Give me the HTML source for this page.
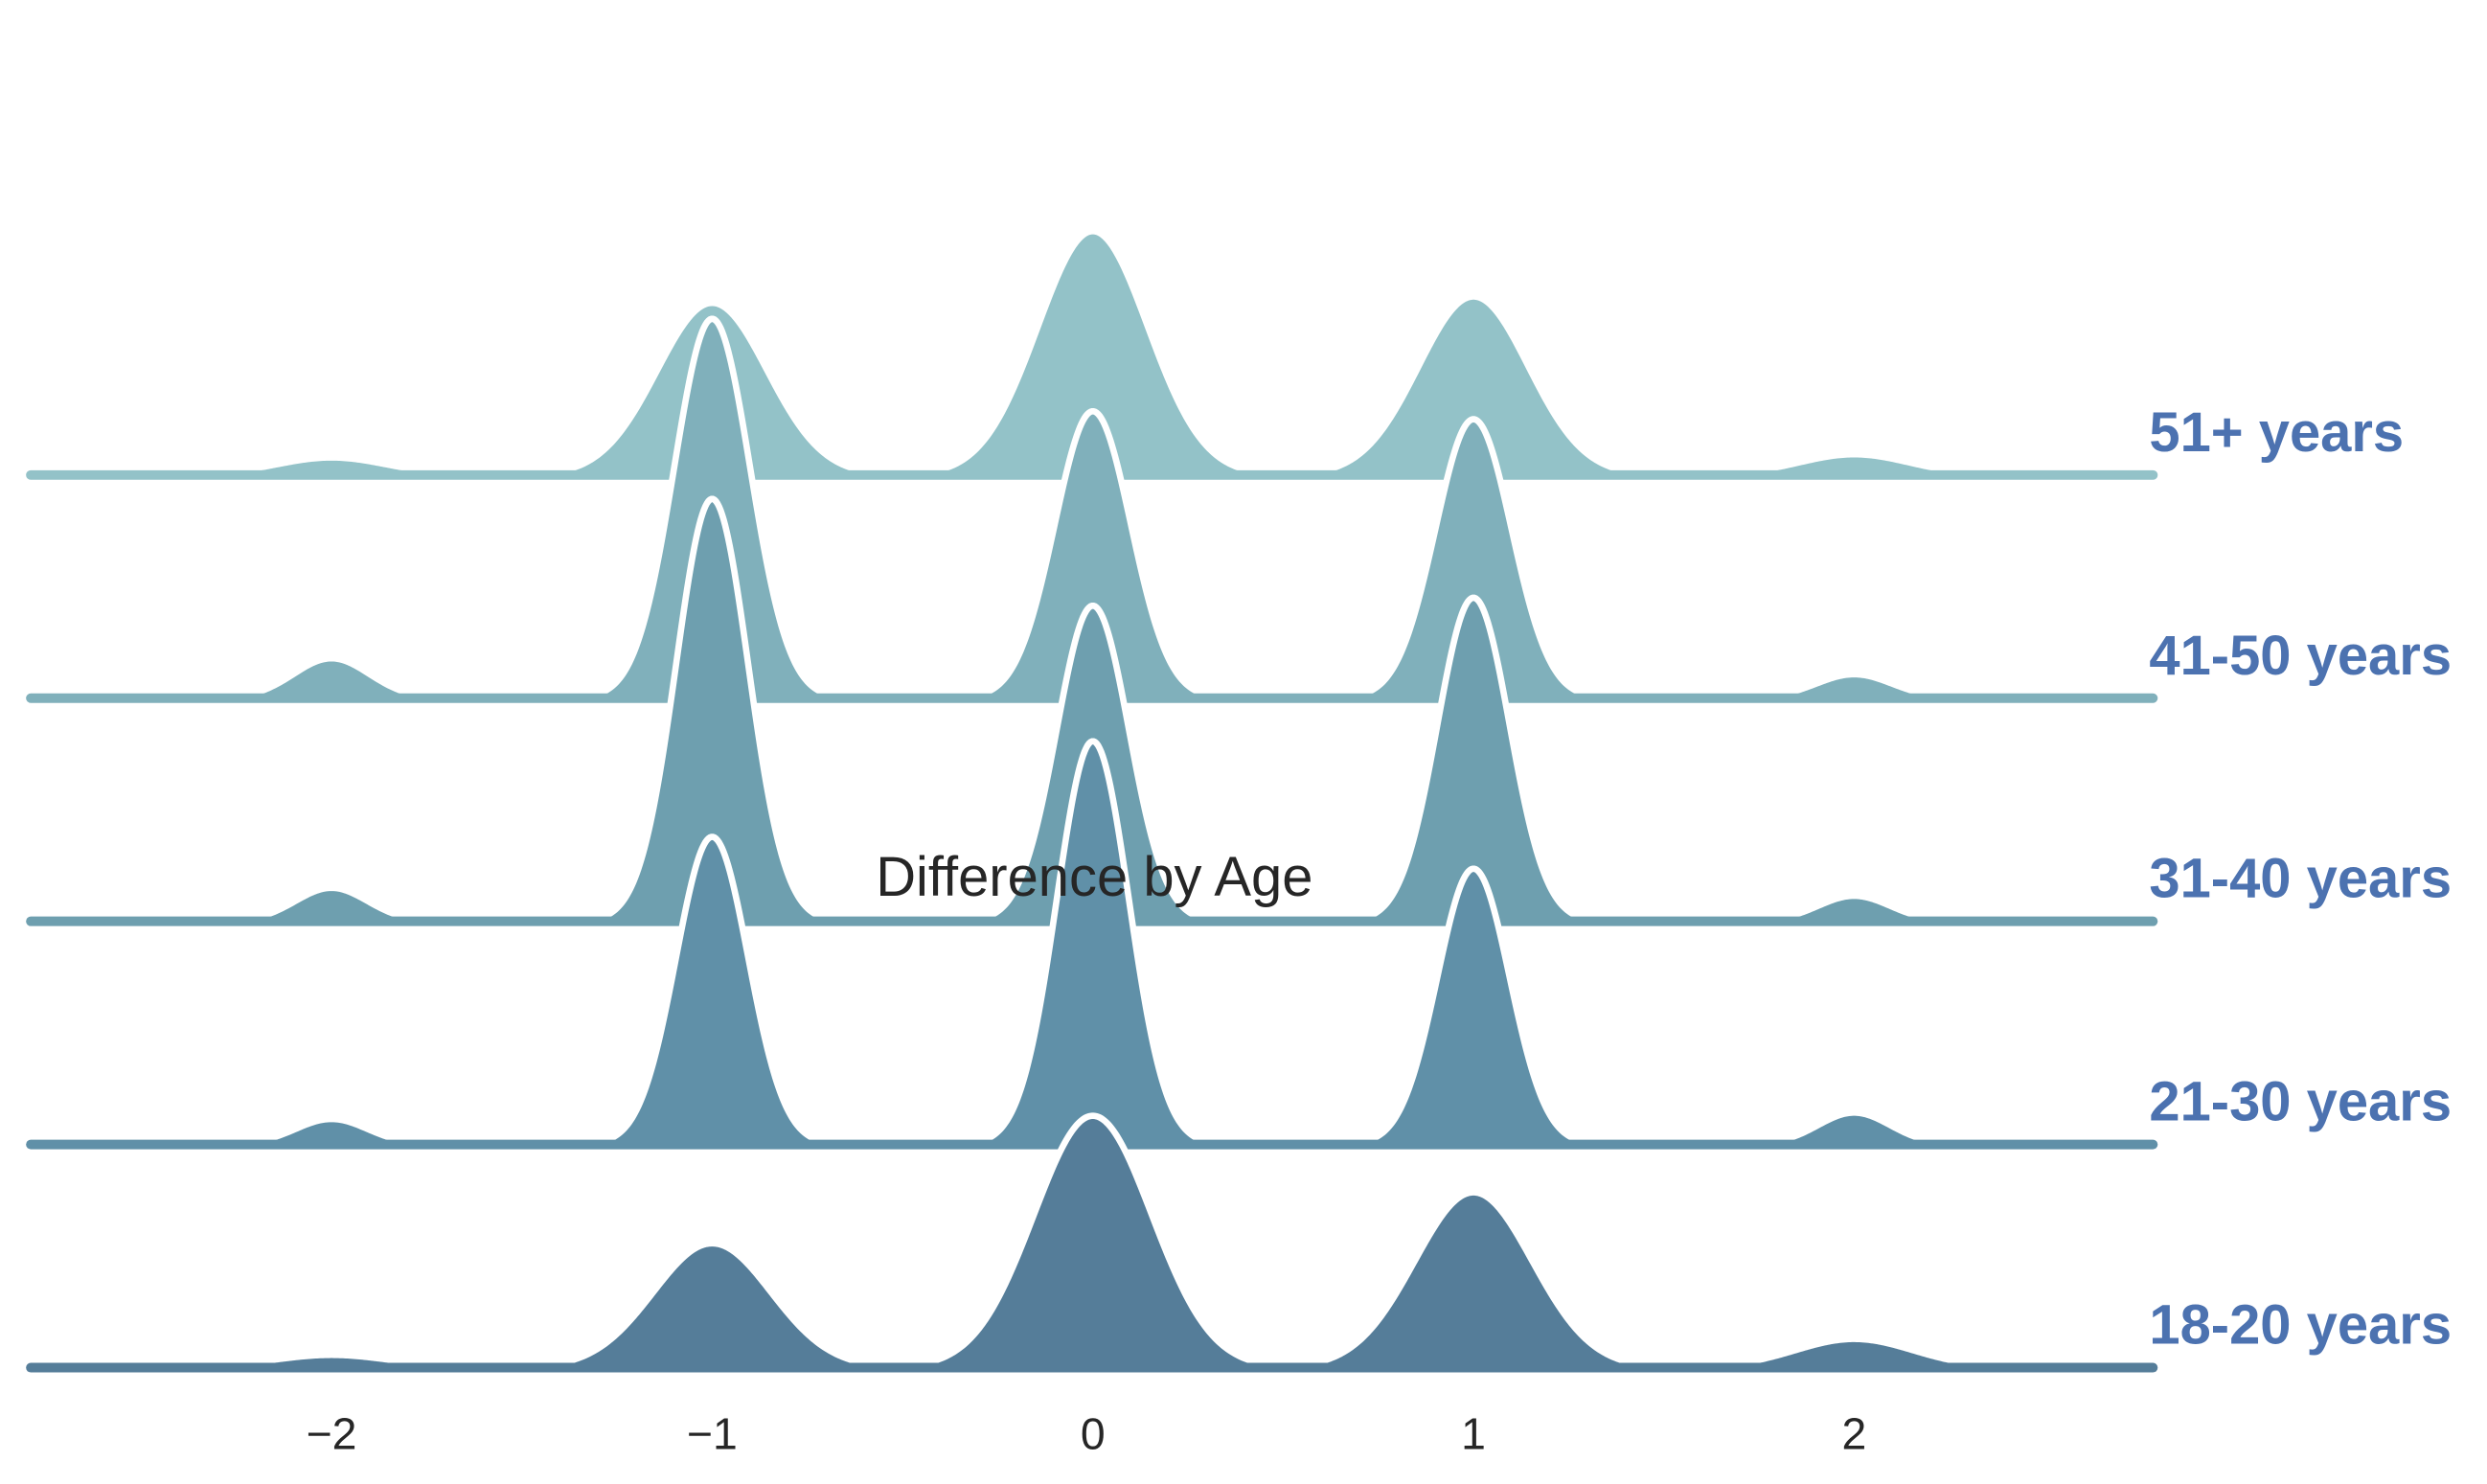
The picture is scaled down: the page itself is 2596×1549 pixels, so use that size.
<!DOCTYPE html>
<html><head><meta charset="utf-8"><style>
html,body{margin:0;padding:0;background:#fff;}
svg{display:block;}
</style></head><body>
<svg id="chart" width="2596" height="1549" viewBox="0 0 1568 931" preserveAspectRatio="none" xmlns="http://www.w3.org/2000/svg">
<g id="ridges"></g>
<text x="690" y="562" text-anchor="middle" font-family="Liberation Sans, sans-serif" font-size="35" fill="#262626">Difference by Age</text>
<g id="xticks"></g>
</svg>
<script>
const groups = ["51+ years","41-50 years","31-40 years","21-30 years","18-20 years"];
const centers = [-2,-1,0,1,2];
const g51 = [0.11,1.08,1.53,1.12,0.13];
const g41 = [0.25,2.38,1.80,1.75,0.15];
const g31 = [0.21,2.65,1.98,2.03,0.16];
const g21 = [0.16,1.93,2.53,1.73,0.20];
const g18 = [0.08,0.78,1.58,1.10,0.18];
const bandwidths = [0.145,0.10,0.095,0.095,0.155];
const xTicks = [-2,-1,0,1,2];
const xTickLabels = ["\u22122","\u22121","0","1","2"];

const series=[g51,g41,g31,g21,g18];
const colors=["#93c2c8","#80b0bb","#6e9faf","#6090a8","#557d99"];
const xs=v=>689+v*240;
const base=i=>298+i*140;
const yScale=100;
const ridges=document.getElementById('ridges');
const NS="http://www.w3.org/2000/svg";
function dens(vals,bw,x){
  let s=0;
  for(let k=0;k<centers.length;k++){
    const d=(x-centers[k])/bw;
    let v=vals[k]*Math.exp(-0.5*d*d);
    if(v<0.015) v=0;
    s+=v;
  }
  return s;
}
series.forEach((vals,i)=>{
  const g=document.createElementNS(NS,'g');
  
  
  const b=base(i);
  let pts=[];
  for(let x=-2.79;x<=2.785;x+=0.004){
    pts.push([xs(x), b-dens(vals,bandwidths[i],x)*yScale]);
  }
  const line="M"+pts.map(p=>p[0].toFixed(2)+","+p[1].toFixed(2)).join("L");
  const fill=document.createElementNS(NS,'path');
  fill.setAttribute('d',line+`L${xs(2.785)},${b}L${xs(-2.79)},${b}Z`);
  fill.setAttribute('fill',colors[i]);
  
  
  g.appendChild(fill);
  const outline=document.createElementNS(NS,'path');
  outline.setAttribute('d',line);
  outline.setAttribute('fill','none');
  outline.setAttribute('stroke','#fff');
  outline.setAttribute('stroke-width','4');
  
  
  g.appendChild(outline);
  const bl=document.createElementNS(NS,'line');
  bl.setAttribute('x1',xs(-2.79));bl.setAttribute('x2',xs(2.785));
  bl.setAttribute('y1',b);bl.setAttribute('y2',b);
  bl.setAttribute('stroke',colors[i]);bl.setAttribute('stroke-width','6');
  bl.setAttribute('stroke-linecap','round');
  
  
  g.appendChild(bl);
  const t=document.createElementNS(NS,'text');
  t.setAttribute('x',1355);t.setAttribute('y',b-15);
  t.setAttribute('font-family','Liberation Sans, sans-serif');
  t.setAttribute('font-weight','bold');t.setAttribute('font-size','35');
  t.setAttribute('fill','#4c72b0');
  t.textContent=groups[i];
  
  
  g.appendChild(t);
  ridges.appendChild(g);
});
const xt=document.getElementById('xticks');
xTicks.forEach((v,k)=>{
  const t=document.createElementNS(NS,'text');
  t.setAttribute('x',xs(v));t.setAttribute('y',909);
  t.setAttribute('text-anchor','middle');
  t.setAttribute('font-family','Liberation Sans, sans-serif');
  t.setAttribute('font-size','28');t.setAttribute('fill','#262626');
  t.textContent=xTickLabels[k];
  
  
  xt.appendChild(t);
});
</script>
</body></html>
